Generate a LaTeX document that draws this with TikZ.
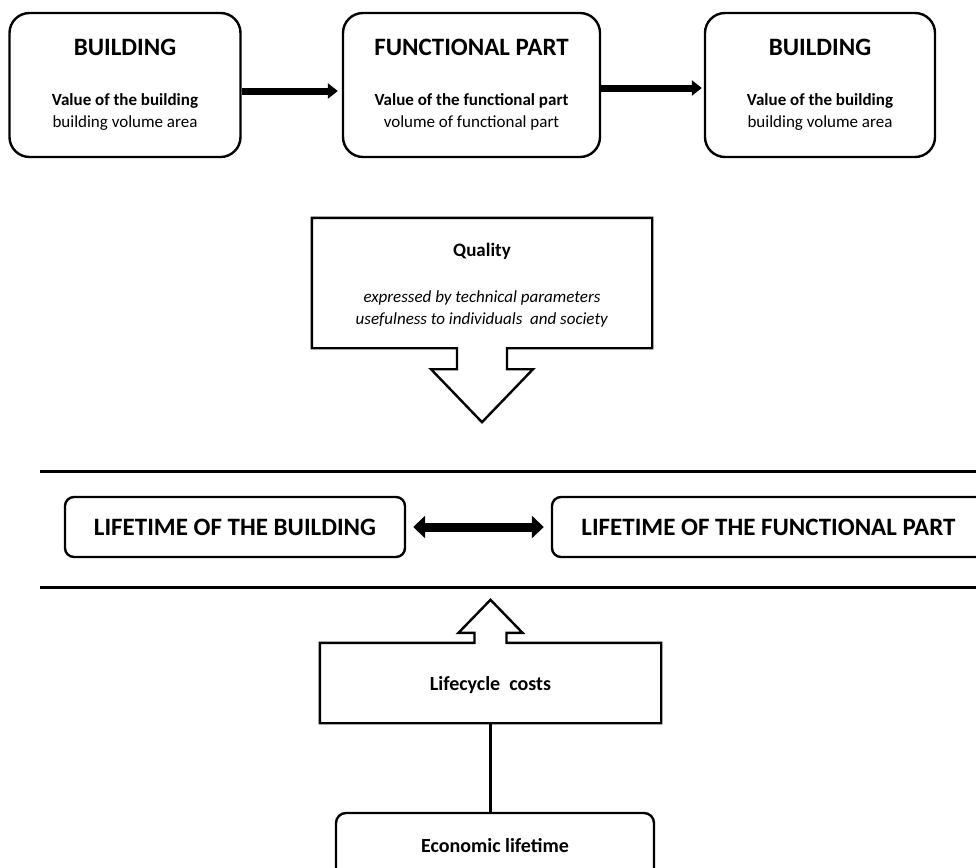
\documentclass[tikz,border=0pt]{standalone}
\usepackage{fontspec}
\setmainfont{Carlito}
\usetikzlibrary{positioning, arrows.meta, calc}

\begin{document}
\begin{tikzpicture}[
        x=1pt, y=-1pt,
        >={Triangle[length=10pt, width=15pt]},
        part/.style={draw, line width=2.4pt, rounded corners=20pt, minimum height=144pt, align=center, inner sep=0pt, font=\fontsize{17}{22}\selectfont},
        lifebox/.style={draw, line width=2.4pt, rounded corners=9pt, minimum height=60pt, inner sep=0pt, font=\fontsize{25}{29}\selectfont\bfseries},
        plainbox/.style={minimum height=80pt, inner sep=0pt, align=center, font=\fontsize{20}{24}\selectfont\bfseries},
        flow/.style={->, line width=7pt},
        both/.style={{Triangle[length=12pt, width=22pt]}-{Triangle[length=12pt, width=22pt]}, line width=9pt},
        outline/.style={draw, line width=2.4pt, fill=white, line join=miter},
        rule/.style={line width=3pt}
        ]
        \useasboundingbox (0,0) rectangle (976,867);
        \clip (0,0) rectangle (976,867);

        % Top row
        \node[part, minimum width=231pt] (BldA) at (125,85) {{\fontsize{25}{29}\selectfont\bfseries BUILDING}\\[28pt]\textbf{Value of the building}\\building volume area};
        \node[part, minimum width=257pt] (Func) at (471.5,85) {{\fontsize{25}{29}\selectfont\bfseries FUNCTIONAL PART}\\[28pt]\textbf{Value of the functional part}\\volume of functional part};
        \node[part, minimum width=230pt] (BldB) at (820,85) {{\fontsize{25}{29}\selectfont\bfseries BUILDING}\\[28pt]\textbf{Value of the building}\\building volume area};

        \draw[flow, shorten >=4pt] ([yshift=-6pt]BldA.east) -- ([yshift=-6pt]Func.west);
        \draw[flow, shorten >=2pt] ([yshift=-3pt]Func.east) -- ([yshift=-3pt]BldB.west);

        % Quality callout with its down arrow
        \node[plainbox, minimum width=340pt, minimum height=130pt] (Quality) at (482,283) {};
        \draw[outline] (Quality.north west) -- (Quality.north east) -- (Quality.south east)
            -- ($(Quality.south)+(25,0)$) -- ++(0,21) -- ++(26,0) -- ++(-51,53) -- ++(-51,-53) -- ++(26,0) -- ++(0,-21)
            -- (Quality.south west) -- cycle;
        \node[align=center, font=\fontsize{17}{22}\selectfont] (QualityText) at ([yshift=-2pt]Quality.center) {{\fontsize{19}{22}\selectfont\bfseries Quality}\\[24pt]\textit{expressed by technical parameters}\\\textit{usefulness to individuals\ \ and society}};

        % Lifetime band
        \draw[rule] (40,471) -- (980,471);
        \draw[rule] (40,587) -- (980,587);
        \node[lifebox, minimum width=340pt] (LifeB) at (235,527) {LIFETIME OF THE BUILDING};
        \node[lifebox, minimum width=433pt] (LifeF) at (768.5,527) {LIFETIME OF THE FUNCTIONAL PART};
        \draw[both, shorten <=7pt, shorten >=7pt] (LifeB) -- (LifeF);

        % Costs box with its up arrow
        \node[plainbox, minimum width=341pt] (Costs) at (490.5,683) {};
        \draw[outline] (Costs.south west) -- (Costs.north west)
            -- ($(Costs.north)+(-16,0)$) -- ++(0,-10) -- ++(-16,0) -- ++(32,-33) -- ++(32,33) -- ++(-16,0) -- ++(0,10)
            -- (Costs.north east) -- (Costs.south east) -- cycle;
        \node[plainbox, minimum height=0pt] (CostsText) at ([yshift=-2pt]Costs.center) {Lifecycle\ \ costs};

        \node[plainbox, draw, line width=2.4pt, rounded corners=10pt, minimum width=318pt, minimum height=66pt] (Econ) at (495,846) {Economic lifetime};
        \draw[line width=2.5pt] (Costs.south) -- (Costs.south |- Econ.north);

    \end{tikzpicture}
\end{document}
